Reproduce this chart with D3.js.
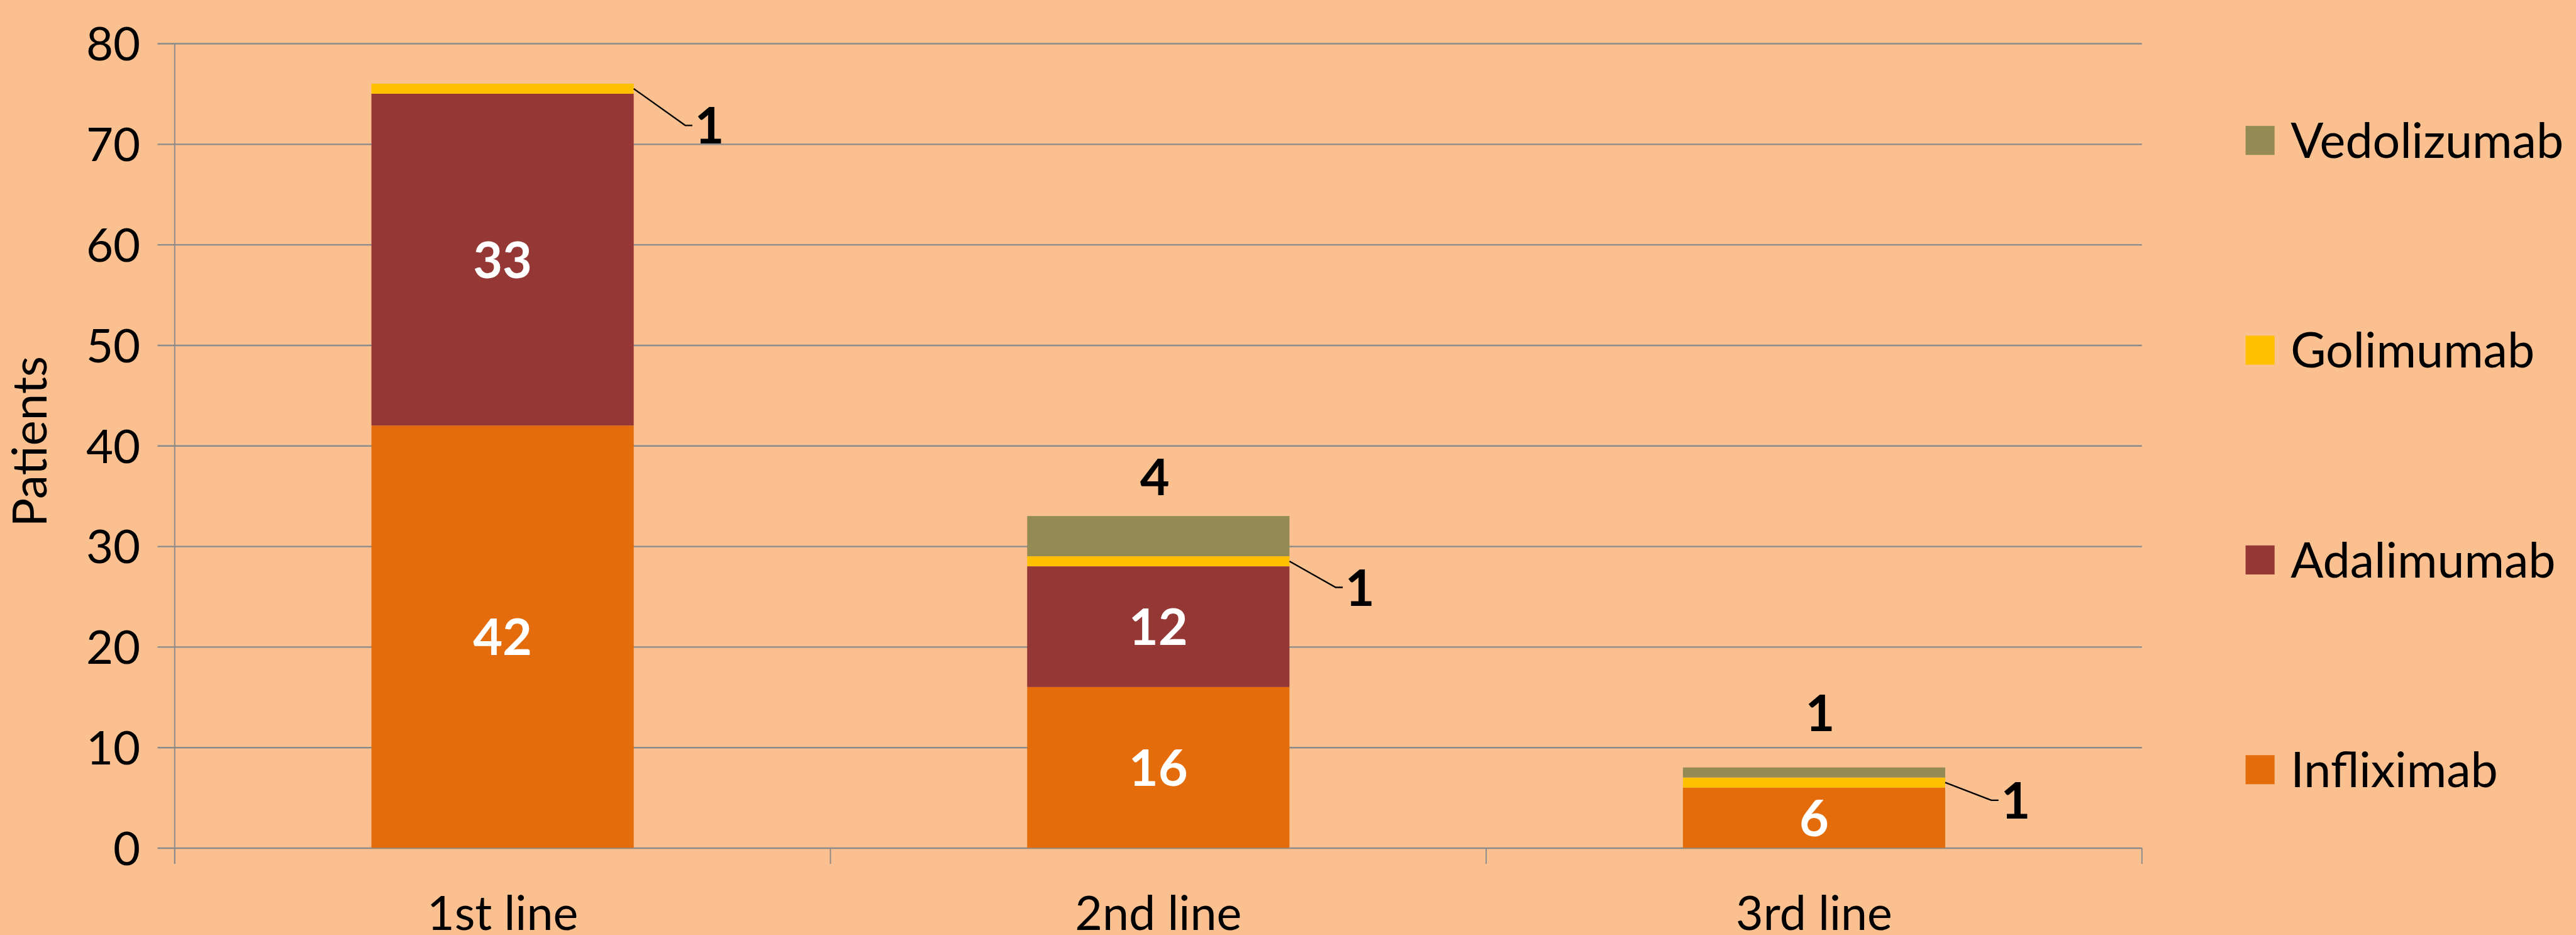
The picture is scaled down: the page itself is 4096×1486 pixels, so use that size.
<!DOCTYPE html>
<html>
<head>
<meta charset="utf-8">
<script src="https://cdn.jsdelivr.net/npm/d3@7"></script>
<style>
  html, body { margin: 0; padding: 0; background: #FAC090; overflow: hidden; }
  svg { display: block; }
  text { font-family: Lato, "Open Sans", sans-serif; fill: #000; }
</style>
</head>
<body>
<script>
// ---- data ----
const categories = ["1st line", "2nd line", "3rd line"];
const seriesNames = ["Infliximab", "Adalimumab", "Golimumab", "Vedolizumab"];
const infliximab = [42, 16, 6];
const adalimumab = [33, 12, 0];
const golimumab = [1, 1, 1];
const vedolizumab = [0, 4, 1];
const yTickValues = [0, 10, 20, 30, 40, 50, 60, 70, 80];
const seriesColors = ["#E46C0A", "#953735", "#FFC000", "#948A54"];

// ---- layout (reference pixel space, scaled by viewBox) ----
const W = 4350, H = 1578;
const svg = d3.select("body").append("svg")
  .attr("width", 4096).attr("height", 1486)
  .attr("viewBox", `0 0 ${W} ${H}`)
  .attr("preserveAspectRatio", "none");

svg.append("rect").attr("width", W).attr("height", H).attr("fill", "#FAC090");

const plotL = 295, plotR = 3617, plotT = 73.3, plotB = 1431;

const x = d3.scaleBand().domain(categories).range([plotL, plotR])
  .paddingInner(0.6).paddingOuter(0.3);
const y = d3.scaleLinear().domain([0, 80]).range([plotB, plotT]);

const table = categories.map((c, i) => ({
  category: c,
  Infliximab: infliximab[i],
  Adalimumab: adalimumab[i],
  Golimumab: golimumab[i],
  Vedolizumab: vedolizumab[i]
}));
const stacked = d3.stack().keys(seriesNames)(table);

const gridColor = "#8A8A8A";

// gridlines + y axis
const yAxis = d3.axisLeft(y).tickValues(yTickValues)
  .tickSize(-(plotR - plotL)).tickSizeOuter(0).tickPadding(58);
const gy = svg.append("g").attr("transform", `translate(${plotL},0)`).call(yAxis);
gy.select(".domain").remove();
gy.selectAll(".tick line")
  .attr("x1", -29).attr("x2", plotR - plotL)
  .attr("stroke", gridColor).attr("stroke-width", 2.5);
gy.selectAll(".tick text")
  .attr("font-size", 79).attr("font-family", "Lato, sans-serif")
  .attr("fill", "#000").attr("dy", "0.36em");

// vertical axis line
svg.append("line").attr("x1", plotL).attr("x2", plotL)
  .attr("y1", plotT).attr("y2", plotB + 27)
  .attr("stroke", gridColor).attr("stroke-width", 2);

// category axis
const xAxis = d3.axisBottom(x).tickSize(0).tickPadding(0);
const gx = svg.append("g").attr("transform", `translate(0,${plotB})`).call(xAxis);
gx.select(".domain").remove();
gx.selectAll(".tick text").attr("font-size", 80).attr("font-family", "Lato, sans-serif")
  .attr("fill", "#000").attr("dy", 0).attr("y", 138);
// category boundary tick marks
const boundaries = d3.range(categories.length + 1).map(i => plotL + i * x.step());
svg.append("g").selectAll("line").data(boundaries).join("line")
  .attr("x1", d => d).attr("x2", d => d)
  .attr("y1", plotB).attr("y2", plotB + 27)
  .attr("stroke", gridColor).attr("stroke-width", 2);

// bars
svg.append("g").selectAll("g").data(stacked).join("g")
  .attr("fill", (d, i) => seriesColors[i])
  .selectAll("rect").data(d => d).join("rect")
  .attr("x", d => x(d.data.category))
  .attr("width", x.bandwidth())
  .attr("y", d => y(d[1]))
  .attr("height", d => y(d[0]) - y(d[1]));

// inner white labels (Infliximab, Adalimumab)
const labels = svg.append("g");
[0, 1].forEach(si => {
  stacked[si].forEach(d => {
    const v = d[1] - d[0];
    if (v <= 0) return;
    labels.append("text")
      .attr("x", x(d.data.category) + x.bandwidth() / 2)
      .attr("y", (y(d[0]) + y(d[1])) / 2)
      .attr("dy", "0.36em")
      .attr("text-anchor", "middle")
      .attr("font-size", 86).attr("font-weight", 700)
      .style("fill", "#fff")
      .text(v);
  });
});

// Golimumab labels with leader lines
const golOffsets = [[87, 62], [78, 44], [78, 30]];
stacked[2].forEach((d, i) => {
  const v = d[1] - d[0];
  const ax = x(d.data.category) + x.bandwidth();
  const ay = (y(d[0]) + y(d[1])) / 2;
  const ex = ax + golOffsets[i][0], ey = ay + golOffsets[i][1];
  labels.append("path")
    .attr("d", `M${ax},${ay}L${ex},${ey}L${ex + 12},${ey}`)
    .attr("fill", "none").attr("stroke", "#000").attr("stroke-width", 2.5);
  labels.append("text")
    .attr("x", ex + 16).attr("y", ey).attr("dy", "0.36em")
    .attr("font-size", 86).attr("font-weight", 700)
    .text(v);
});

// Vedolizumab labels above bars (baseline offsets from bar top)
const vedOffsets = [[0, 0], [-6, -35], [10, -61]];
stacked[3].forEach((d, i) => {
  const v = d[1] - d[0];
  if (v <= 0) return;
  labels.append("text")
    .attr("x", x(d.data.category) + x.bandwidth() / 2 + vedOffsets[i][0])
    .attr("y", y(d[1]) + vedOffsets[i][1])
    .attr("text-anchor", "middle")
    .attr("font-size", 86).attr("font-weight", 700)
    .text(v);
});

// y axis title
svg.append("text")
  .attr("transform", `translate(79,${(plotT + plotB) / 2 - 7}) rotate(-90)`)
  .attr("text-anchor", "middle")
  .attr("font-size", 81)
  .text("Patients");

// legend (reverse order)
const legendOrder = seriesNames.map((n, i) => ({ name: n, color: seriesColors[i] })).reverse();
const lg = svg.append("g").selectAll("g").data(legendOrder).join("g")
  .attr("transform", (d, i) => `translate(3792,${237 + i * 354})`);
lg.append("rect").attr("x", 0).attr("y", -24.5).attr("width", 49).attr("height", 49)
  .attr("fill", d => d.color);
lg.append("text").attr("x", 76).attr("y", 0).attr("dy", "0.36em")
  .attr("font-size", 82).text(d => d.name);
</script>
</body>
</html>
